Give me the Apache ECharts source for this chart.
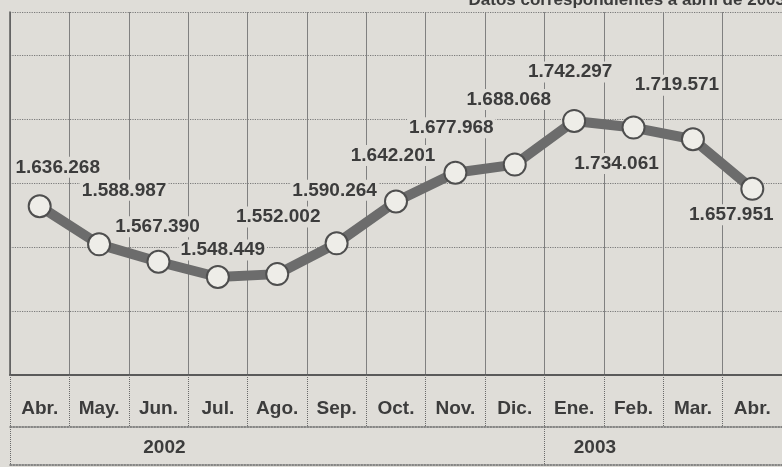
<!DOCTYPE html>
<html>
<head>
<meta charset="utf-8">
<script src="https://cdn.jsdelivr.net/npm/echarts@6/dist/echarts.min.js"></script>
<style>
  html, body { margin: 0; padding: 0; background: #dfddd8; }
  #chart { width: 782px; height: 467px; }
</style>
</head>
<body>
<div id="chart"></div>
<script>
const months = ['Abr.', 'May.', 'Jun.', 'Jul.', 'Ago.', 'Sep.', 'Oct.', 'Nov.', 'Dic.', 'Ene.', 'Feb.', 'Mar.', 'Abr.']
const values = [1636268, 1588987, 1567390, 1548449, 1552002, 1590264, 1642201, 1677968, 1688068, 1742297, 1734061, 1719571, 1657951]
const years = ['2002', '2003']

// where each value label sits relative to its point
const labelOffsets = [[18, -39], [25, -54], [-1, -35], [5, -27], [1, -57], [-2, -53], [-3, -46], [-4, -45], [-6, -65], [-4, -49], [-17, 36], [-16, -54], [-21, 26]]

const paper = '#dfddd8'
const ink = '#3c3c3c'
const font = '"Liberation Sans", Arial, Helvetica, sans-serif'

const fmt = v => String(v).replace(/\B(?=(\d{3})+(?!\d))/g, '.')

const chart = echarts.init(document.getElementById('chart'), null, { renderer: 'canvas' })

chart.setOption({
  backgroundColor: paper,
  animation: false,
  title: {
    text: 'Datos correspondientes a abril de 2003',
    right: -8,
    top: -13,
    textStyle: { fontFamily: font, fontSize: 17, fontWeight: 'bold', color: ink }
  },
  grid: { left: 10, right: -3, top: 12, bottom: 92 },
  xAxis: [
    {
      type: 'category',
      data: months,
      boundaryGap: true,
      position: 'bottom',
      axisLine: { lineStyle: { color: '#5a5a5a', width: 2 } },
      axisTick: { show: true, interval: 0, length: 52, lineStyle: { color: '#6a6a6a', type: 'dotted', width: 1 } },
      axisLabel: { interval: 0, margin: 24, fontFamily: font, fontSize: 19, fontWeight: 'bold', color: ink },
      splitLine: { show: true, interval: 0, lineStyle: { color: '#808080', width: 1 } }
    },
    {
      type: 'value',
      min: 0,
      max: 13,
      position: 'bottom',
      offset: 52,
      axisLine: { show: true, lineStyle: { color: '#6a6a6a', type: 'dotted', width: 1.5 } },
      axisTick: { show: true, customValues: [0, 9], length: 38, lineStyle: { color: '#6a6a6a', type: 'dotted', width: 1 } },
      axisLabel: {
        customValues: [2.6, 9.85],
        formatter: v => (v < 9 ? years[0] : years[1]),
        margin: 11,
        fontFamily: font,
        fontSize: 19,
        fontWeight: 'bold',
        color: ink
      },
      splitLine: { show: false }
    },
    {
      type: 'value',
      min: 0,
      max: 13,
      position: 'bottom',
      offset: 90,
      axisLine: { show: true, lineStyle: { color: '#6a6a6a', type: 'dotted', width: 1.5 } },
      axisTick: { show: false },
      axisLabel: { show: false },
      splitLine: { show: false }
    }
  ],
  yAxis: [
    {
      type: 'value',
      min: 1426700,
      max: 1877600,
      show: false
    },
    {
      type: 'value',
      min: 0,
      max: 363,
      interval: 64,
      position: 'left',
      axisLine: { show: true, lineStyle: { color: '#5a5a5a', width: 1.5 } },
      axisTick: { show: false },
      axisLabel: { show: false },
      splitLine: { show: true, lineStyle: { color: '#7a7a7a', type: 'dotted', width: 1.2 } }
    }
  ],
  series: [
    {
      type: 'line',
      xAxisIndex: 0,
      yAxisIndex: 0,
      data: values.map((v, i) => ({
        value: v,
        label: { offset: labelOffsets[i] }
      })),
      symbol: 'circle',
      symbolSize: 22,
      lineStyle: { color: '#6c6c6c', width: 10 },
      itemStyle: { color: '#eeede8', borderColor: '#4e4e4e', borderWidth: 2 },
      label: {
        show: true,
        position: 'inside',
        formatter: p => fmt(p.value),
        fontFamily: font,
        fontSize: 19,
        fontWeight: 'bold',
        color: ink,
        backgroundColor: paper,
        padding: [1, 2]
      },
      z: 5
    }
  ]
})
</script>
</body>
</html>
